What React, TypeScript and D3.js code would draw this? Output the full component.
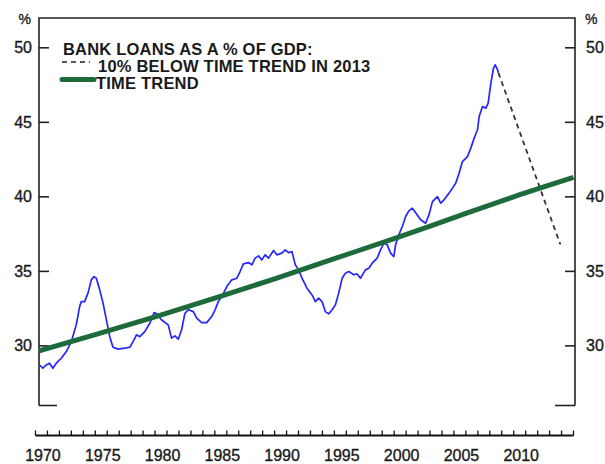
import React from "react";
import * as d3 from "d3";

// Bank loans as % of GDP: [year, value]
const loanSeries: [number, number][] = [
  [1970.19, 28.84], [1970.61, 28.5], [1970.9, 28.72], [1971.17, 28.84], [1971.45, 28.5],
  [1971.74, 28.84], [1972.16, 29.17], [1972.58, 29.62], [1973.0, 30.29], [1973.41, 31.41],
  [1973.69, 32.64], [1973.83, 32.97], [1974.11, 32.97], [1974.39, 33.54], [1974.67, 34.43],
  [1974.89, 34.65], [1975.09, 34.54], [1975.37, 33.76], [1975.65, 32.87], [1975.93, 31.74],
  [1976.21, 30.62], [1976.48, 29.91], [1976.9, 29.78], [1977.47, 29.85], [1977.89, 29.91],
  [1978.16, 30.29], [1978.45, 30.74], [1978.72, 30.62], [1979.14, 30.96], [1979.56, 31.52],
  [1979.92, 32.23], [1980.15, 32.15], [1980.55, 31.74], [1981.1, 31.41], [1981.38, 30.52],
  [1981.66, 30.67], [1981.94, 30.45], [1982.22, 31.07], [1982.5, 32.19], [1982.78, 32.42],
  [1983.2, 32.3], [1983.48, 31.86], [1983.9, 31.56], [1984.32, 31.56], [1984.74, 31.97],
  [1985.02, 32.42], [1985.29, 32.97], [1985.58, 33.31], [1986.0, 33.98], [1986.42, 34.43],
  [1986.84, 34.54], [1987.11, 34.99], [1987.39, 35.5], [1987.81, 35.59], [1988.1, 35.44],
  [1988.37, 35.89], [1988.65, 36.04], [1988.93, 35.77], [1989.21, 36.11], [1989.49, 35.89],
  [1989.91, 36.4], [1990.19, 36.11], [1990.61, 36.22], [1990.89, 36.44], [1991.17, 36.26],
  [1991.45, 36.33], [1991.73, 35.44], [1992.01, 35.1], [1992.29, 34.54], [1992.71, 33.87],
  [1993.13, 33.42], [1993.41, 32.97], [1993.68, 33.2], [1993.97, 32.97], [1994.24, 32.3],
  [1994.52, 32.15], [1994.81, 32.42], [1995.08, 32.75], [1995.36, 33.54], [1995.65, 34.54],
  [1995.92, 34.88], [1996.2, 34.99], [1996.62, 34.77], [1996.9, 34.83], [1997.18, 34.54],
  [1997.6, 35.1], [1997.88, 35.21], [1998.16, 35.55], [1998.58, 35.89], [1998.86, 36.44],
  [1999.14, 36.89], [1999.42, 36.78], [1999.7, 36.22], [1999.97, 35.99], [2000.12, 36.78],
  [2000.39, 37.45], [2000.68, 38.01], [2000.96, 38.68], [2001.23, 39.06], [2001.52, 39.24],
  [2001.8, 38.93], [2002.21, 38.46], [2002.63, 38.23], [2002.91, 38.79], [2003.2, 39.68],
  [2003.62, 40.02], [2003.89, 39.58], [2004.17, 39.8], [2004.59, 40.25], [2004.87, 40.58],
  [2005.15, 40.92], [2005.43, 41.59], [2005.71, 42.37], [2006.13, 42.7], [2006.41, 43.27],
  [2006.69, 43.94], [2006.97, 44.5], [2007.11, 45.39], [2007.39, 46.06], [2007.67, 45.95],
  [2007.86, 46.29], [2008.09, 47.63], [2008.31, 48.64], [2008.45, 48.86], [2008.65, 48.52],
  [2008.72, 48.32],
];

// Time trend
const trendYears = [1970, 1975, 1980, 1985, 1990, 1995, 2000, 2005, 2010, 2015];
const trendValues = [29.6, 30.75, 31.95, 33.2, 34.5, 35.85, 37.2, 38.6, 40.0, 41.3];

// 10% below time trend in 2013 (projection)
const projYears = [2008.72, 2013.9];
const projValues = [48.32, 36.8];

const yTicks = [30, 35, 40, 45, 50];
const xLabelYears = [1970, 1975, 1980, 1985, 1990, 1995, 2000, 2005, 2010];
const legendTitle = "BANK LOANS AS A % OF GDP:";
const legendDashed = "10% BELOW TIME TREND IN 2013";
const legendTrend = "TIME TREND";

const W = 605;
const H = 464;
const left = 39;
const right = 575;
const top = 18;
const bottom = 405.5;

export default function App() {
  const x = d3.scaleLinear().domain([1970, 2015]).range([35.5, 573.5]);
  const y = d3.scaleLinear().domain([26, 52]).range([bottom, top]);

  const line = d3
    .line<[number, number]>()
    .x((d) => x(d[0]))
    .y((d) => y(d[1]));
  const smooth = d3
    .line<[number, number]>()
    .x((d) => x(d[0]))
    .y((d) => y(d[1]))
    .curve(d3.curveMonotoneX);

  const trendPts: [number, number][] = trendYears.map((yr, i) => [yr, trendValues[i]]);
  const projPts: [number, number][] = projYears.map((yr, i) => [yr, projValues[i]]);

  const rulerY = 435.5;
  const yearTicks = d3.range(1970, 2016);
  const font = "'Liberation Sans', Arial, sans-serif";

  return (
    <svg
      width={W}
      height={H}
      style={{ position: "absolute", left: 0, top: 0, background: "#fff" }}
      fontFamily={font}
      fontWeight="bold"
    >
      <defs>
        <clipPath id="plot">
          <rect x={left} y={top} width={right - left} height={bottom - top} />
        </clipPath>
      </defs>
      <rect x={0} y={0} width={W} height={H} fill="#fff" />

      {/* frame */}
      <g stroke="#222" strokeWidth={1.6} fill="none">
        <path d={`M${left},${bottom}V${top}H${right}V${bottom}`} />
        <line x1={left} x2={left + 18} y1={bottom} y2={bottom} />
        <line x1={right - 20} x2={right} y1={bottom} y2={bottom} />
        {yTicks.map((t) => (
          <g key={t}>
            <line x1={left} x2={left + 10} y1={y(t)} y2={y(t)} />
            <line x1={right - 10} x2={right} y1={y(t)} y2={y(t)} />
          </g>
        ))}
      </g>

      {/* y labels */}
      <g fontSize={16} fill="#1a1a1a" fontWeight="normal">
        {yTicks.map((t) => (
          <g key={t}>
            <text x={32} y={y(t)} textAnchor="end" dominantBaseline="central" stroke="#1a1a1a" strokeWidth={0.35}>
              {t}
            </text>
            <text x={586} y={y(t)} textAnchor="start" dominantBaseline="central" stroke="#1a1a1a" strokeWidth={0.35}>
              {t}
            </text>
          </g>
        ))}
        <text x={31} y={24} textAnchor="end" fontSize={14} stroke="#1a1a1a" strokeWidth={0.35}>%</text>
        <text x={585} y={24} textAnchor="start" fontSize={14} stroke="#1a1a1a" strokeWidth={0.35}>%</text>
      </g>

      {/* series */}
      <g clipPath="url(#plot)" fill="none">
        <path d={line(loanSeries) || ""} stroke="#2626ff" strokeWidth={1.7} strokeLinejoin="round" />
        <path d={line(projPts) || ""} stroke="#333" strokeWidth={1.8} strokeDasharray="5,4" />
        <path d={smooth(trendPts) || ""} stroke="#1d6b3a" strokeWidth={5} />
      </g>

      {/* legend */}
      <g fontSize={16.5} fill="#1a1a1a" letterSpacing={0.2}>
        <text x={63} y={55}>{legendTitle}</text>
        <line x1={62} x2={90} y1={62} y2={62} stroke="#222" strokeWidth={1.6} strokeDasharray="5,4" />
        <text x={98} y={72}>{legendDashed}</text>
        <line x1={62} x2={94} y1={79.5} y2={79.5} stroke="#1d6b3a" strokeWidth={5} strokeLinecap="round" />
        <text x={96} y={89}>{legendTrend}</text>
      </g>

      {/* bottom ruler */}
      <g stroke="#111" fill="none">
        <line x1={x(1970)} x2={x(2015)} y1={rulerY} y2={rulerY} strokeWidth={2} />
        {yearTicks.map((yr) => (
          <line key={yr} x1={x(yr)} x2={x(yr)} y1={rulerY} y2={rulerY - 5} strokeWidth={1.3} />
        ))}
      </g>
      <g fontSize={16} fill="#1a1a1a" textAnchor="middle" fontWeight="normal">
        {xLabelYears.map((yr) => (
          <text key={yr} x={x(yr + 0.5) + 1.5} y={460.5} stroke="#1a1a1a" strokeWidth={0.35}>
            {yr}
          </text>
        ))}
      </g>
    </svg>
  );
}
